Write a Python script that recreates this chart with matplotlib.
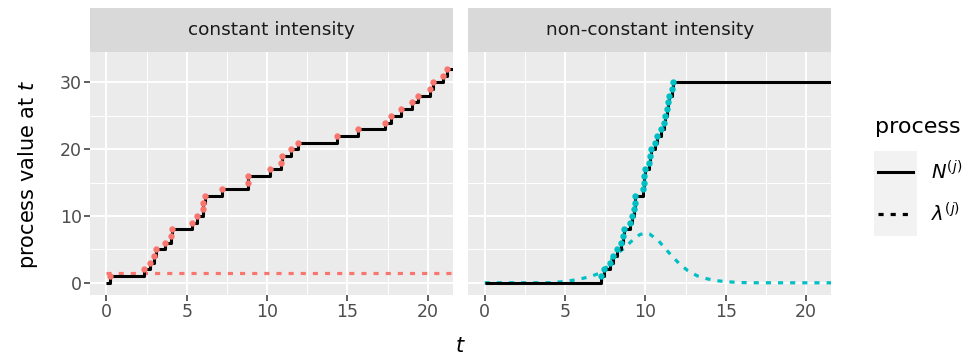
import matplotlib
matplotlib.use("Agg")
import matplotlib.pyplot as plt
from matplotlib.lines import Line2D

# event times of the two simulated counting processes
t_const = [0.22, 2.33, 2.71, 2.96, 3.06, 3.66, 4.01, 4.06, 5.30, 5.61, 5.99,
           6.02, 6.13, 7.17, 8.79, 8.82, 10.21, 10.84, 10.94, 11.48, 11.90,
           14.32, 15.67, 17.33, 17.69, 18.33, 18.99, 19.40, 20.13, 20.34,
           20.96, 21.21]
t_var = [7.24, 7.41, 7.82, 8.01, 8.24, 8.51, 8.61, 8.65, 9.02, 9.17, 9.31,
         9.33, 9.38, 9.86, 9.89, 9.94, 10.00, 10.21, 10.27, 10.33, 10.58,
         10.73, 10.95, 11.14, 11.20, 11.33, 11.41, 11.49, 11.64, 11.70]

# intensities
lam_const = 1.5
lam_t = [0, 4.0, 4.75, 5.4, 6.06, 6.64, 7.2, 7.6, 8.03, 8.65, 9.13, 9.65,
         10.0, 10.25, 10.79, 11.2, 11.66, 12.12, 12.63, 13.22, 13.84, 14.5,
         15.15, 15.81, 16.5, 22.0]
lam_v = [0, 0.02, 0.15, 0.34, 0.64, 0.99, 1.49, 2.4, 3.98, 5.13, 6.22, 7.22,
         7.45, 7.32, 6.37, 5.23, 3.98, 2.84, 1.84, 1.05, 0.6, 0.3, 0.15,
         0.05, 0.01, 0]

t_end = 22.0
red = "#F8766D"
cyan = "#00BFC4"

W, H = 971, 356
fig = plt.figure(figsize=(W / 100, H / 100), dpi=100)
plt.rcParams["font.family"] = "DejaVu Sans"
plt.rcParams["mathtext.fontset"] = "dejavusans"


def box(x0, y0, x1, y1):
    # pixel box (top-left origin) -> figure fraction rect
    return [x0 / W, 1 - y1 / H, (x1 - x0) / W, (y1 - y0) / H]


panels = [
    ("constant intensity", 90, 452.7, t_const, red),
    ("non-constant intensity", 468.3, 831, t_var, cyan),
]
top, bottom, strip_top = 51.7, 294.5, 8

for i, (title, x0, x1, times, col) in enumerate(panels):
    ax = fig.add_axes(box(x0, top, x1, bottom))
    ax.set_facecolor("#EBEBEB")
    for s in ax.spines.values():
        s.set_visible(False)
    ax.set_xlim(-1.02, 21.55)
    ax.set_ylim(-1.75, 34.6)
    ax.set_xticks([0, 5, 10, 15, 20])
    ax.set_yticks([0, 10, 20, 30])
    ax.set_xticks([2.5, 7.5, 12.5, 17.5], minor=True)
    ax.set_yticks([5, 15, 25], minor=True)
    ax.grid(True, which="major", color="white", lw=1.4)
    ax.grid(True, which="minor", color="white", lw=0.7)
    ax.set_axisbelow(True)
    ax.tick_params(which="minor", length=0)
    ax.tick_params(which="major", length=4, width=1.1, color="#333333",
                   labelcolor="#4D4D4D", labelsize=12.5, pad=2)
    if i == 1:
        ax.tick_params(axis="y", length=0, labelleft=False)

    # intensity
    if i == 0:
        ax.plot([0, t_end], [lam_const, lam_const], color=col, lw=2.3,
                ls=(0, (1.6, 2.2)))
    else:
        ax.plot(lam_t, lam_v, color=col, lw=2.3, ls=(0, (1.6, 2.2)))

    # counting process
    n = list(range(len(times) + 1))
    ax.plot([0] + times + [t_end], n + [n[-1]], color="black", lw=2.2,
            drawstyle="steps-post", solid_capstyle="butt")
    ax.plot(times, n[1:], "o", color=col, ms=4.6, mew=0)

    # strip
    sax = fig.add_axes(box(x0, strip_top, x1, top))
    sax.set_facecolor("#D9D9D9")
    sax.set_xticks([])
    sax.set_yticks([])
    for s in sax.spines.values():
        s.set_visible(False)
    sax.text(0.5, 0.5, title, ha="center", va="center", fontsize=13.3,
             color="#1A1A1A", transform=sax.transAxes)

fig.text(460 / W, 1 - 346 / H, "$t$", ha="center", va="center", fontsize=15)
fig.text(28 / W, 1 - 174 / H, "process value at $t$", ha="center",
         va="center", rotation=90, fontsize=15)

# legend
fig.text(875 / W, 1 - 127 / H, "process", ha="left", va="center", fontsize=16)
lax = fig.add_axes(box(874, 150.7, 917, 235.7))
lax.set_facecolor("#F2F2F2")
lax.set_xlim(0, 43)
lax.set_ylim(85, 0)
lax.set_xticks([])
lax.set_yticks([])
for s in lax.spines.values():
    s.set_visible(False)
lax.add_line(Line2D([4, 39], [21, 21], color="black", lw=2.2))
lax.add_line(Line2D([4, 39], [63.6, 63.6], color="black", lw=2.3,
                    ls=(0, (1.6, 2.2))))
fig.text(931 / W, 1 - 172 / H, "$N^{(j)}$", ha="left", va="center", fontsize=14)
fig.text(931 / W, 1 - 214 / H, r"$\lambda^{(j)}$", ha="left", va="center",
         fontsize=14)

fig.savefig("out.png", dpi=100)
